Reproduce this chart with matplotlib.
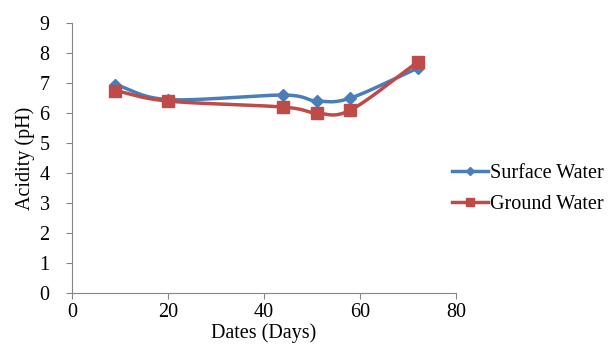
import numpy as np
import matplotlib
matplotlib.use("Agg")
import matplotlib.pyplot as plt
from matplotlib.lines import Line2D

days = [9, 20, 44, 51, 58, 72]
surface = [6.95, 6.45, 6.6, 6.4, 6.5, 7.5]
ground = [6.75, 6.4, 6.2, 6.0, 6.1, 7.7]
labels = ["Surface Water", "Ground Water"]

plt.rcParams['font.family'] = ['Liberation Serif', 'DejaVu Serif']

def smooth(x, y, n=30):
    x = np.asarray(x, float); y = np.asarray(y, float)
    P = np.column_stack([x, y])
    P = np.vstack([P[0] - (P[1] - P[0]), P, P[-1] + (P[-1] - P[-2])])
    out = []
    for i in range(1, len(P) - 2):
        p0, p1, p2, p3 = P[i - 1], P[i], P[i + 1], P[i + 2]
        t = np.linspace(0, 1, n)[:, None]
        c1 = p1 + (p2 - p0) / 6
        c2 = p2 - (p3 - p1) / 6
        pts = (1 - t) ** 3 * p1 + 3 * (1 - t) ** 2 * t * c1 + 3 * (1 - t) * t ** 2 * c2 + t ** 3 * p2
        out.append(pts)
    out = np.vstack(out)
    return out[:, 0], out[:, 1]

fig = plt.figure(figsize=(6.09, 3.5), dpi=100)
ax = fig.add_axes([0.118, 0.163, 0.631, 0.771])

blue = '#4A7EBB'
red = '#BE4B48'
for yv, c, m, ms in [(surface, blue, 'D', 6), (ground, red, 's', 8)]:
    sx, sy = smooth(days, yv)
    ax.plot(sx, sy, color=c, lw=2.5, zorder=2)
    ax.plot(days, yv, linestyle='none', marker=m, color=c, ms=ms, zorder=3)

ax.set_xlim(0, 80)
ax.set_ylim(0, 9)
ax.set_xticks(range(0, 81, 20))
ax.set_yticks(range(0, 10))
for s in ['top', 'right']:
    ax.spines[s].set_visible(False)
for s in ['left', 'bottom']:
    ax.spines[s].set_color('#868686')
ax.tick_params(colors='#868686', labelcolor='black', labelsize=14.5, direction='out', length=4)
ax.tick_params(axis='y', pad=12)
ax.tick_params(axis='x', pad=3)
ax.set_xlabel('Dates (Days)', fontsize=14.5, labelpad=1)
ax.set_ylabel('Acidity (pH)', fontsize=14.5, labelpad=3)

handles = [Line2D([], [], color=blue, lw=2.5, marker='D', ms=4),
           Line2D([], [], color=red, lw=2.5, marker='s', ms=6)]
fig.legend(handles, labels, loc='center left', bbox_to_anchor=(0.712, 0.46),
           frameon=False, fontsize=14.5, handlelength=1.8, handletextpad=0.1,
           labelspacing=0.6)

fig.savefig('out.png', dpi=100)
